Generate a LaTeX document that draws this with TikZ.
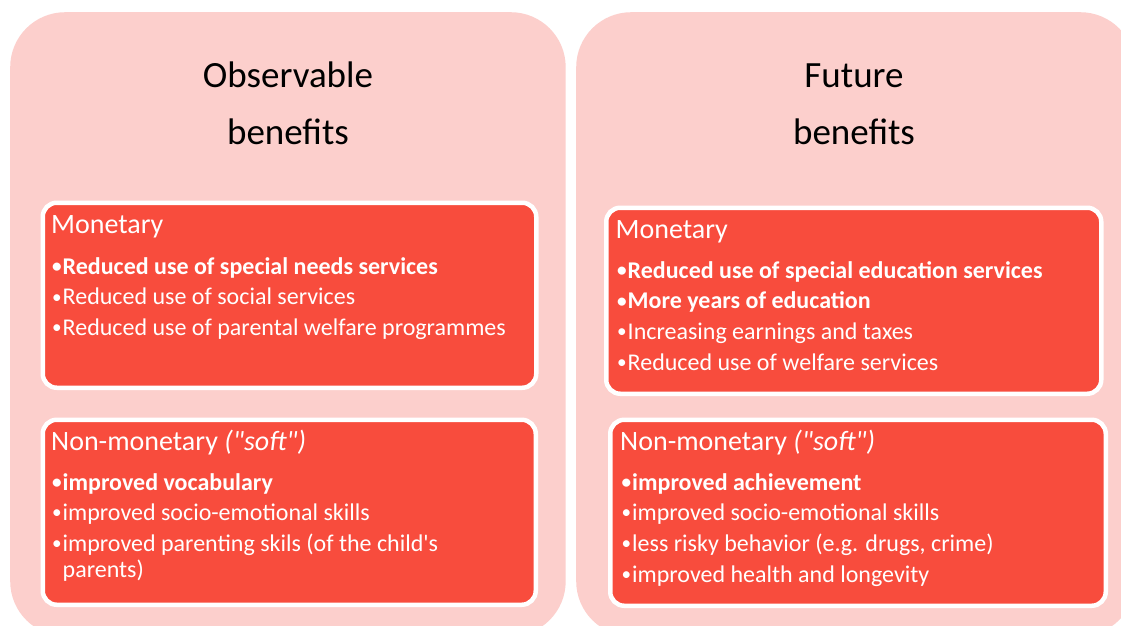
\documentclass[tikz,border=0pt]{standalone}
\usepackage{fontspec}
\setmainfont{Carlito}
\newfontfamily\carl{Carlito}
\definecolor{panelpink}{RGB}{252,207,204}
\definecolor{boxred}{RGB}{248,76,61}
\newcommand\bul{\makebox[10.5pt][l]{\raisebox{1.2pt}{\scalebox{0.8}{•}}}}
\tikzset{
  panel/.style={rectangle, rounded corners=55pt, fill=panelpink, draw=none, anchor=north west, inner sep=0pt},
  redbox/.style={rectangle, rounded corners=14pt, fill=boxred, draw=white, line width=4.5pt, anchor=north west, inner sep=0pt},
  ttl/.style={anchor=base, inner sep=0pt, text=black, font=\carl\fontsize{37}{40}\selectfont},
  hdr/.style={anchor=base west, inner sep=0pt, text=white, font=\carl\fontsize{28}{30}\selectfont},
  itm/.style={anchor=base west, inner sep=0pt, text=white, font=\carl\fontsize{24}{26}\selectfont},
}
\begin{document}
\begin{tikzpicture}[x=1pt,y=-1pt]
\useasboundingbox (0,0) rectangle (1121,625);
\begin{scope}
\clip (0,0) rectangle (1121,625);
\fill[white] (0,0) rectangle (1121,625);
% outer panels
\node[panel, minimum width=555.5pt, minimum height=624pt] (obs) at (10,12) {};
\node[panel, minimum width=559pt, minimum height=624pt] (fut) at (576,12) {};
% titles
\node[ttl] (obs1) at (288,87) {Observable};
\node[ttl] (obs2) at (288,144) {benefits};
\node[ttl] (fut1) at (854,87) {Future};
\node[ttl] (fut2) at (854,144) {benefits};
% inner boxes
\node[redbox, minimum width=493.5pt, minimum height=185pt] (lm) at (40.5,200.5) {};
\node[redbox, minimum width=493pt, minimum height=185pt] (ln) at (40.5,417.5) {};
\node[redbox, minimum width=495pt, minimum height=186pt] (rm) at (604,205.5) {};
\node[redbox, minimum width=495.5pt, minimum height=186pt] (rn) at (608,417.5) {};
% left monetary
\node[hdr] (lmh) at (51,233) {Monetary};
\node[itm] (lm1) at (52,274) {\bfseries \bul Reduced use of special needs services};
\node[itm] (lm2) at (52,304.5) {\bul Reduced use of social services};
\node[itm] (lm3) at (52,335) {\bul Reduced use of parental welfare programmes};
% left non-monetary
\node[hdr] (lnh) at (51,450) {Non-monetary \textit{("soft")}};
\node[itm] (ln1) at (52,490) {\bfseries \bul improved vocabulary};
\node[itm] (ln2) at (52,520) {\bul improved socio-emotional skills};
\node[itm] (ln3) at (52,551) {\bul improved parenting skils (of the child's};
\node[itm] (ln4) at (52,577) {\phantom{\bul}parents)};
% right monetary
\node[hdr] (rmh) at (615.5,238) {Monetary};
\node[itm] (rm1) at (617,278) {\bfseries \bul Reduced use of special education services};
\node[itm] (rm2) at (617,308.5) {\bfseries \bul More years of education};
\node[itm] (rm3) at (617,339) {\bul Increasing earnings and taxes};
\node[itm] (rm4) at (617,370) {\bul Reduced use of welfare services};
% right non-monetary
\node[hdr] (rnh) at (620,450) {Non-monetary \textit{("soft")}};
\node[itm] (rn1) at (621.5,490) {\bfseries \bul improved achievement};
\node[itm] (rn2) at (621.5,520) {\bul improved socio-emotional skills};
\node[itm] (rn3) at (621.5,551) {\bul less risky behavior (e.g. drugs, crime)};
\node[itm] (rn4) at (621.5,582) {\bul improved health and longevity};
\end{scope}
\end{tikzpicture}
\end{document}
